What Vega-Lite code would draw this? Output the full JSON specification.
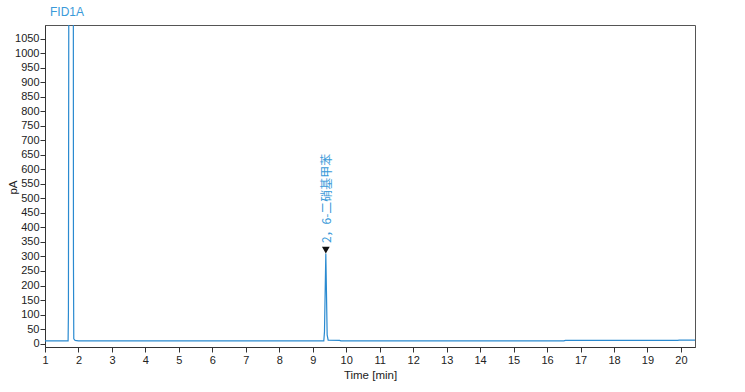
{
  "$schema": "https://vega.github.io/schema/vega-lite/v6.json",
  "width": 650,
  "height": 322,
  "autosize": {"type": "none"},
  "padding": {"left": 45, "top": 25, "right": 50, "bottom": 45},
  "background": "white",
  "config": {
    "view": {"stroke": "#555555", "strokeWidth": 1},
    "font": "Liberation Sans",
    "axis": {"grid": false, "domainColor": "#333333", "tickColor": "#333333", "labelColor": "#222222", "titleColor": "#222222", "labelFontSize": 11, "titleFontSize": 11.5, "titleFontWeight": "normal", "tickSize": 5, "labelOverlap": false, "format": "d"}
  },
  "title": {"text": "FID1A", "anchor": "start", "frame": "group", "dx": 5, "offset": 6, "fontSize": 12, "fontWeight": "normal", "color": "#3a9ad9", "font": "Liberation Sans"},
  "encoding": {
    "x": {"field": "t", "type": "quantitative", "scale": {"domain": [1, 20.42], "nice": false, "zero": false},
      "axis": {"title": "Time [min]", "values": [1,2,3,4,5,6,7,8,9,10,11,12,13,14,15,16,17,18,19,20], "labelFlush": false, "titlePadding": 4}},
    "y": {"field": "pA", "type": "quantitative", "scale": {"domain": [-12, 1098], "nice": false, "zero": false},
      "axis": {"title": "pA", "values": [0,50,100,150,200,250,300,350,400,450,500,550,600,650,700,750,800,850,900,950,1000,1050], "titleX": -27, "titleY": 162, "labelPadding": 1}}
  },
  "layer": [
    {
      "data": {"values": [
        {"t": 1.0, "pA": 9},
        {"t": 1.69, "pA": 9},
        {"t": 1.70, "pA": 108},
        {"t": 1.715, "pA": 1600},
        {"t": 1.845, "pA": 1600},
        {"t": 1.85, "pA": 290},
        {"t": 1.86, "pA": 16},
        {"t": 1.9, "pA": 11},
        {"t": 2.0, "pA": 9},
        {"t": 9.33, "pA": 9},
        {"t": 9.35, "pA": 40},
        {"t": 9.39, "pA": 310},
        {"t": 9.43, "pA": 30},
        {"t": 9.46, "pA": 12},
        {"t": 9.8, "pA": 11},
        {"t": 9.84, "pA": 9},
        {"t": 16.5, "pA": 9},
        {"t": 16.55, "pA": 11},
        {"t": 19.9, "pA": 11},
        {"t": 19.95, "pA": 12},
        {"t": 20.42, "pA": 12}
      ]},
      "mark": {"type": "line", "clip": true, "color": "#2a8ad0", "strokeWidth": 1.2}
    },
    {
      "data": {"values": [{"t": 9.39, "pA": 322, "label": "2，6-二硝基甲苯"}]},
      "layer": [
        {
          "mark": {"type": "point", "shape": "triangle-down", "filled": true, "color": "#111111", "size": 60, "opacity": 1}
        },
        {
          "mark": {"type": "text", "angle": -90, "align": "left", "baseline": "middle", "dx": 7, "dy": 1, "font": "Noto Sans CJK SC", "fontSize": 12, "color": "#3a9ad9"},
          "encoding": {"text": {"field": "label"}}
        }
      ]
    }
  ]
}
